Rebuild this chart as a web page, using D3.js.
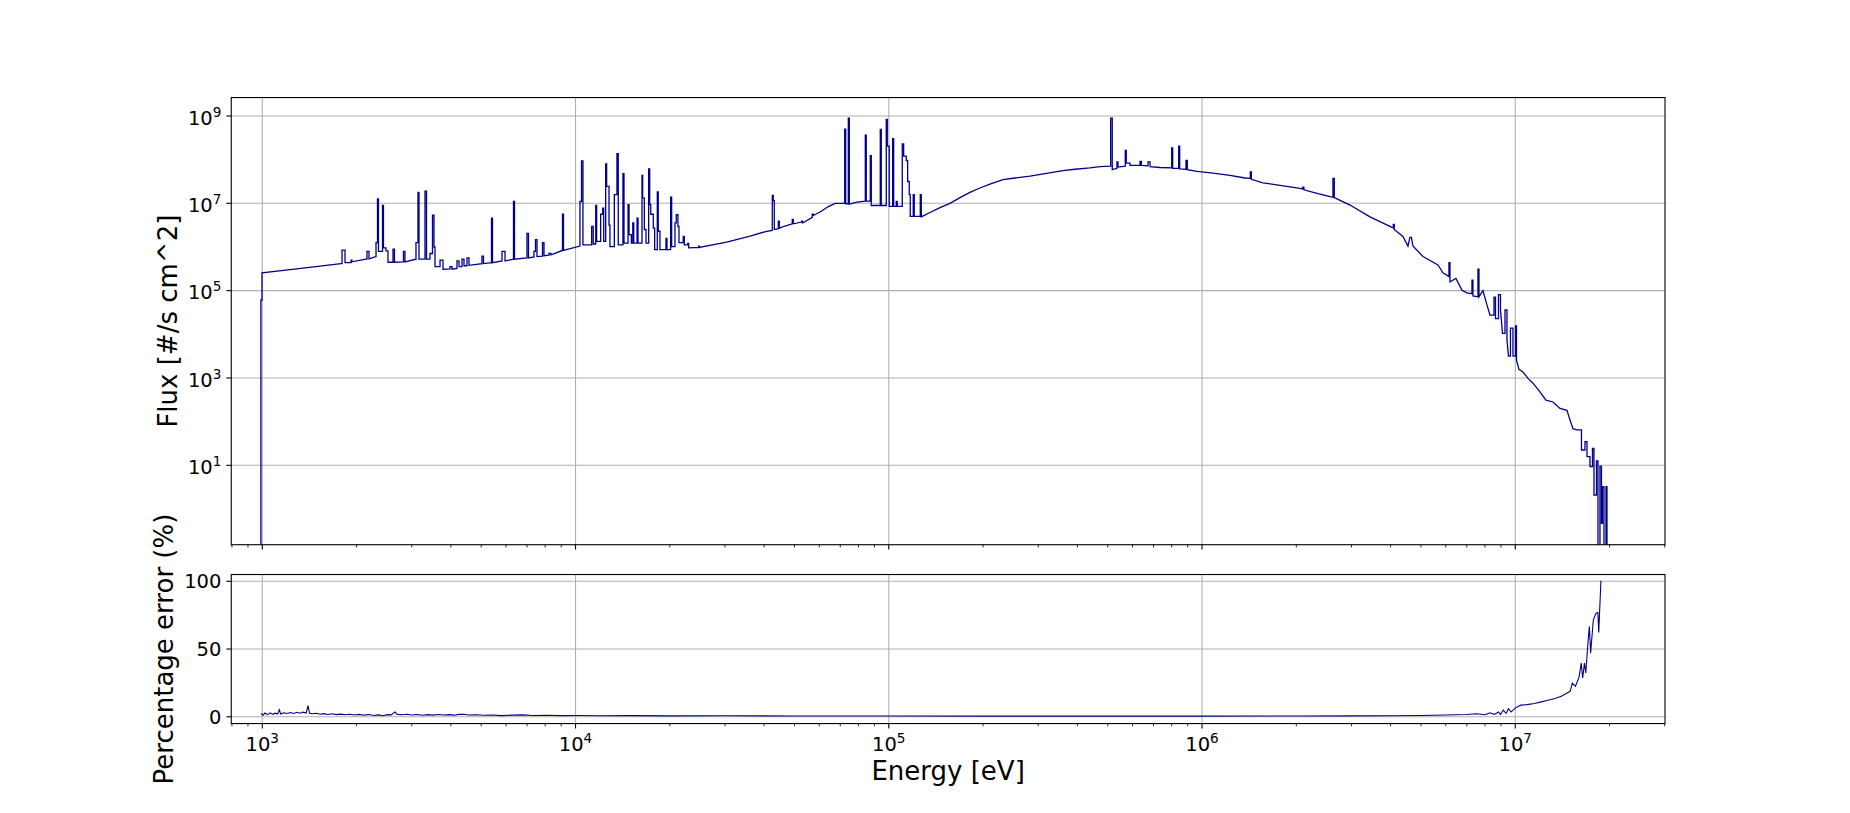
<!DOCTYPE html>
<html><head><meta charset="utf-8">
<script src="https://cdn.jsdelivr.net/npm/d3@7"></script>
<style>
body{margin:0;background:#fff}
svg{display:block}
text{font-family:"DejaVu Sans",sans-serif;fill:#000}
</style>
</head><body>
<svg id="chart" width="1850" height="813"></svg>
<script>
// ---- data: flux trace vertices [energy eV, flux #/s cm^2]; repeated energies are bin edges ----
const fluxTrace = [
[983,1e-3],[990,1e-3],[990,6.1e4],[998,6.1e4],[998,2.57e5],[1226,3.02e5],[1529,3.63e5],[1783,4.17e5],[1797,4.17e5],
[1797,8.51e5],[1837,8.51e5],[1837,4.37e5],[1920,4.37e5],[1920,5.01e5],[1933,5.01e5],[1933,4.57e5],[2143,5.25e5],[2159,5.25e5],
[2159,7.94e5],[2191,7.94e5],[2191,5.37e5],[2307,6.03e5],[2307,1.26e6],[2332,1.26e6],[2332,1.26e7],[2349,1.26e7],
[2349,7.94e5],[2420,7.94e5],[2420,8.91e6],[2437,8.91e6],[2437,9.55e5],[2482,9.55e5],[2482,8.13e5],[2519,8.13e5],
[2519,4.47e5],[2614,4.47e5],[2614,8.91e5],[2642,8.91e5],[2642,4.47e5],[2823,4.57e5],[2823,7.94e5],[2854,7.94e5],
[2854,4.57e5],[3095,5.25e5],[3095,1.26e6],[3141,1.26e6],[3141,1.78e7],[3164,1.78e7],[3164,5.25e5],[3307,5.25e5],
[3307,1.91e7],[3344,1.91e7],[3344,5.25e5],[3430,5.25e5],[3430,7.08e5],[3494,7.08e5],[3494,5.37e6],[3533,5.37e6],
[3533,1.0e6],[3559,1.0e6],[3559,3.55e5],[3693,3.55e5],[3693,5.01e5],[3775,5.01e5],[3775,3.09e5],[3974,3.16e5],
[3974,3.55e5],[4033,3.55e5],[4033,3.09e5],[4183,3.24e5],[4183,4.79e5],[4246,4.79e5],[4246,3.55e5],[4341,3.55e5],
[4341,5.25e5],[4405,5.25e5],[4405,3.72e5],[4503,3.72e5],[4503,5.62e5],[4569,5.62e5],[4569,3.80e5],[5027,4.17e5],
[5027,6.17e5],[5083,6.17e5],[5083,4.17e5],[5391,4.37e5],[5391,4.57e6],[5431,4.57e6],[5431,4.37e5],[5825,4.79e5],
[5825,7.94e5],[5955,7.94e5],[5955,4.79e5],[6338,5.25e5],[6338,1.10e7],[6385,1.10e7],[6385,5.25e5],[6998,5.62e5],
[6998,2.04e6],[7076,2.04e6],[7076,5.62e5],[7367,5.89e5],[7367,7.94e5],[7449,7.94e5],[7449,1.48e6],[7532,1.48e6],
[7532,6.03e5],[7843,6.17e5],[7843,1.26e6],[7930,1.26e6],[7930,6.31e5],[8226,6.46e5],[8226,7.08e5],[8349,7.08e5],
[8349,6.61e5],[9085,8.32e5],[9085,5.62e6],[9153,5.62e6],[9153,8.32e5],[10330,1.05e6],[10330,1.10e7],[10450,1.10e7],
[10450,9.33e7],[10560,9.33e7],[10560,1.12e6],[11260,1.12e6],[11260,2.95e6],[11390,2.95e6],[11390,1.17e6],[11600,1.17e6],
[11600,8.91e6],[11680,8.91e6],[11680,1.35e6],[12030,1.35e6],[12030,5.62e6],[12210,5.62e6],[12210,7.76e6],[12300,7.76e6],
[12300,1.35e6],[12480,1.35e6],[12480,7.94e7],[12570,7.94e7],[12570,2.45e7],[12790,2.45e7],[12790,3.16e6],[12880,3.16e6],
[12880,1.02e6],[13300,1.02e6],[13300,1.58e7],[13560,1.58e7],[13560,1.38e8],[13690,1.38e8],[13690,1.12e6],[14170,1.12e6],
[14170,4.79e7],[14280,4.79e7],[14280,1.23e6],[14710,1.23e6],[14710,9.33e6],[14820,9.33e6],[14820,1.91e6],[15070,1.91e6],
[15070,1.23e6],[15230,1.23e6],[15230,3.55e6],[15340,3.55e6],[15340,1.23e6],[15720,1.23e6],[15720,4.57e6],[15830,4.57e6],
[15830,1.23e6],[16300,1.23e6],[16300,4.37e7],[16380,4.37e7],[16380,1.32e7],[16580,1.32e7],[16580,2.51e6],[16790,2.51e6],
[16790,1.23e6],[17120,1.23e6],[17120,6.17e7],[17250,6.17e7],[17250,9.33e6],[17380,9.33e6],[17380,5.62e6],[17710,5.62e6],
[17710,2.69e6],[17890,2.69e6],[17890,8.71e5],[18240,8.71e5],[18240,1.82e7],[18370,1.82e7],[18370,2.29e6],[18600,2.29e6],
[18600,8.71e5],[19440,8.71e5],[19440,1.58e6],[19580,1.58e6],[19580,8.71e5],[20120,8.71e5],[20120,1.38e7],[20270,1.38e7],
[20270,1.02e6],[20770,1.02e6],[20770,3.55e6],[20970,3.55e6],[20970,5.50e6],[21230,5.50e6],[21230,2.95e6],[21390,2.95e6],
[21390,1.26e6],[22070,1.26e6],[22070,1.74e6],[22240,1.74e6],[22240,1.12e6],[22800,1.12e6],[22800,1.20e6],[22970,1.20e6],
[22970,9.55e5],[24720,9.77e5],[24720,1.05e6],[24830,1.05e6],[24830,9.77e5],[30380,1.29e6],[36060,1.78e6],[40750,2.29e6],
[42470,2.40e6],[42470,1.51e7],[42790,1.51e7],[42790,1.15e7],[43100,1.15e7],[43100,2.51e6],[44400,2.63e6],[44400,3.89e6],
[44720,3.89e6],[44720,2.69e6],[46630,3.02e6],[49190,3.39e6],[49190,4.27e6],[49550,4.27e6],[49550,3.39e6],[52720,3.72e6],
[52720,3.89e6],[53110,3.89e6],[53110,3.55e6],[56990,4.79e6],[56990,5.62e6],[57410,5.62e6],[57410,5.25e6],[60300,6.31e6],
[63960,8.32e6],[67330,1.0e7],[72320,1.0e7],[72320,5.01e8],[72860,5.01e8],[72860,9.77e6],[74260,9.77e6],[74260,8.91e8],
[74810,8.91e8],[74810,9.55e6],[79160,1.07e7],[84140,1.12e7],[84140,3.63e8],[84750,3.63e8],[84750,1.12e7],[87290,1.12e7],
[87290,1.23e8],[87930,1.23e8],[87930,8.91e6],[93940,8.91e6],[93940,4.90e8],[94630,4.90e8],[94630,8.91e6],[98170,8.91e6],
[98170,8.32e8],[98900,8.32e8],[98900,2.04e8],[100350,2.04e8],[100350,8.51e6],[102900,8.51e6],[102900,3.02e8],[103660,3.02e8],
[103660,8.51e6],[105660,8.51e6],[105660,1.10e7],[106440,1.10e7],[106440,8.51e6],[110430,8.51e6],[110430,2.29e8],[111560,2.29e8],
[111560,1.20e8],[113700,1.20e8],[113700,9.55e7],[114870,9.55e7],[114870,3.16e7],[116230,3.16e7],[116230,1.58e7],[117090,1.58e7],
[117090,5.01e6],[119700,5.01e6],[119700,1.58e7],[120590,1.58e7],[120590,5.01e6],[126060,5.01e6],[126060,1.58e7],[126990,1.58e7],
[126990,4.90e6],[135380,6.17e6],[145700,7.94e6],[156800,1.0e7],[168800,1.35e7],[181600,1.78e7],[195500,2.24e7],[210400,2.75e7],
[231500,3.47e7],[252900,3.80e7],[282300,4.17e7],[315200,4.79e7],[359800,5.62e7],[393000,6.03e7],[438700,6.46e7],[472300,6.92e7],
[511000,7.08e7],[511000,8.91e8],[516900,8.91e8],[516900,5.89e7],[535100,6.31e7],[535100,8.91e7],[539000,8.91e7],[539000,6.76e7],
[568800,7.08e7],[568800,1.62e8],[573000,1.62e8],[573000,8.32e7],[588800,8.32e7],[588800,7.41e7],[633900,7.41e7],[633900,9.12e7],
[639900,9.12e7],[639900,7.41e7],[672300,7.24e7],[672300,8.91e7],[682300,8.91e7],[682300,6.92e7],[734200,6.61e7],[800100,6.46e7],
[800100,1.86e8],[806000,1.86e8],[806000,6.31e7],[842400,6.31e7],[842400,2.04e8],[848600,2.04e8],[848600,6.17e7],[888800,6.03e7],
[888800,9.55e7],[897400,9.55e7],[897400,5.89e7],[963400,5.37e7],[1.083e6,4.90e7],[1.228e6,4.37e7],[1.371e6,3.80e7],[1.426e6,3.72e7],
[1.426e6,5.25e7],[1.437e6,5.25e7],[1.437e6,3.55e7],[1.565e6,2.95e7],[1.774e6,2.57e7],[2.054e6,2.19e7],[2.095e6,2.14e7],[2.095e6,2.34e7],
[2.115e6,2.34e7],[2.115e6,2.04e7],[2.345e6,1.66e7],[2.580e6,1.41e7],[2.618e6,1.38e7],[2.618e6,3.72e7],[2.644e6,3.72e7],[2.644e6,1.35e7],
[2.967e6,9.12e6],[3.437e6,4.90e6],[4.041e6,2.82e6],[4.079e6,2.75e6],[4.079e6,3.31e6],[4.109e6,3.31e6],[4.109e6,2.51e6],[4.379e6,1.74e6],
[4.543e6,1.05e6],[4.610e6,1.66e6],[4.660e6,1.66e6],[4.713e6,1.05e6],[5.075e6,6.03e5],[5.665e6,3.89e5],[5.877e6,2.57e5],[6.142e6,2.09e5],
[6.142e6,4.37e5],[6.188e6,4.37e5],[6.188e6,1.58e5],[6.466e6,1.91e5],[6.758e6,1.02e5],[7.012e6,8.91e4],[7.274e6,8.51e4],[7.274e6,1.74e5],
[7.327e6,1.74e5],[7.327e6,7.59e4],[7.602e6,7.24e4],[7.602e6,3.09e5],[7.658e6,3.09e5],[7.658e6,7.24e4],[7.887e6,1.0e5],[8.063e6,5.62e4],
[8.303e6,2.75e4],[8.551e6,2.75e4],[8.551e6,7.08e4],[8.646e6,7.08e4],[8.646e6,2.29e4],[8.839e6,2.29e4],[8.839e6,8.13e4],[8.970e6,8.13e4],
[8.970e6,3.63e4],[9.104e6,1.05e4],[9.273e6,1.05e4],[9.273e6,3.63e4],[9.408e6,3.63e4],[9.408e6,7.41e3],[9.513e6,3.16e3],[9.652e6,3.16e3],
[9.652e6,1.38e4],[9.832e6,1.38e4],[9.832e6,3.16e3],[1.0014e7,3.16e3],[1.0014e7,1.55e4],[1.0088e7,1.55e4],[1.0088e7,2.57e3],[1.0275e7,1.58e3],
[1.0582e7,1.38e3],[1.0979e7,977],[1.1391e7,759],[1.1989e7,479],[1.2531e7,309],[1.3192e7,282],[1.3890e7,200],[1.4622e7,182],
[1.4949e7,110],[1.5283e7,69.2],[1.5740e7,64.6],[1.6267e7,64.6],[1.6267e7,22.4],[1.6692e7,22.4],[1.6692e7,34.7],[1.6940e7,34.7],
[1.6940e7,15.8],[1.7316e7,15.8],[1.7316e7,9.33],[1.7637e7,9.33],[1.7637e7,24.5],[1.7833e7,24.5],[1.7833e7,2.09],[1.8165e7,2.09],
[1.8165e7,12.6],[1.8366e7,12.6],[1.8366e7,1e-3],[1.8638e7,1e-3],[1.8638e7,9.55],[1.8843e7,9.55],[1.8843e7,0.468],[1.8983e7,0.468],
[1.8983e7,3.24],[1.9194e7,3.24],[1.9194e7,1e-3],[1.9479e7,1e-3],[1.9479e7,3.24],[1.9623e7,3.24],[1.9623e7,1e-3]
];

// ---- data: [energy eV, percentage error %] ----
const errorSpectrum = [
[990,2.4],[1005,1.2],[1020,2.8],[1040,1.6],[1060,2.9],[1080,1.8],[1100,2.7],[1120,2.0],[1133,5.2],[1145,2.1],
[1170,3.0],[1200,2.4],[1230,3.2],[1260,2.5],[1290,3.3],[1320,2.6],[1350,3.4],[1380,2.8],[1400,8.2],[1415,2.6],
[1450,2.2],[1490,2.6],[1530,1.9],[1570,2.3],[1620,1.7],[1670,2.2],[1720,1.6],[1780,2.0],[1840,1.5],[1900,1.9],
[1970,1.3],[2040,1.8],[2110,1.2],[2190,1.7],[2270,1.0],[2350,1.4],[2430,0.8],[2510,1.6],[2580,1.4],[2650,3.6],
[2700,1.8],[2800,1.5],[2900,1.9],[3000,1.3],[3120,1.7],[3250,1.1],[3380,1.6],[3500,1.2],[3650,1.7],[3800,1.3],
[3950,1.6],[4100,1.2],[4250,1.8],[4400,1.9],[4550,1.3],[4800,1.5],[5100,1.1],[5400,1.3],[5800,0.9],[6300,1.2],
[6800,1.4],[7300,1.0],[8000,1.1],[9000,0.9],[1.0e4,1.0],[1.2e4,0.8],[1.5e4,0.9],[2.0e4,0.7],[3.0e4,0.8],
[5.0e4,0.6],[1.0e5,0.6],[2.0e5,0.5],[5.0e5,0.5],[1.0e6,0.5],[2.0e6,0.6],[3.0e6,0.7],[4.0e6,0.8],[5.0e6,1.0],
[6.0e6,1.3],[7.0e6,1.7],[7.51e6,2.2],[8.0e6,1.5],[8.3e6,3.0],[8.57e6,1.8],[8.84e6,3.6],[8.97e6,1.6],[9.15e6,4.9],
[9.35e6,2.5],[9.51e6,5.9],[9.70e6,3.5],[1.0e7,6.6],[1.042e7,8.6],[1.09e7,9.0],[1.152e7,9.8],[1.21e7,11.0],
[1.271e7,12.2],[1.34e7,13.5],[1.403e7,15.2],[1.45e7,17.0],[1.497e7,18.8],[1.521e7,24.9],[1.556e7,22.5],
[1.598e7,29.3],[1.624e7,39.6],[1.641e7,28.6],[1.663e7,39.6],[1.679e7,32.3],[1.706e7,54.4],[1.724e7,66.7],
[1.740e7,47.0],[1.775e7,71.6],[1.811e7,76.5],[1.835e7,77.0],[1.847e7,62.3],[1.858e7,76.5],[1.877e7,100.5]
];

const xTickExponents = [3,4,5,6,7];
const fluxTickExponents = [1,3,5,7,9];
const errorTicks = [0,50,100];
const xLabel = "Energy [eV]";
const fluxLabel = "Flux [#/s cm^2]";
const errorLabel = "Percentage error (%)";

// ---- layout ----
const L = 231.25, R = 1665;
const T1 = 97.56, B1 = 544.71, T2 = 574.52, B2 = 723.57;
const lineColor = "#00008b", gridColor = "#b0b0b0";
const tickFont = 19.5, supFont = 13.6, labelFont = 26;

const svg = d3.select("#chart");
const x = d3.scaleLog().domain([796, 3.006e7]).range([L, R]);
const yF = d3.scaleLog().domain([0.152, 2.64e9]).range([B1, T1]);
const yE = d3.scaleLinear().domain([-5, 105]).range([B2, T2]);

const defs = svg.append("defs");
defs.append("clipPath").attr("id","clipTop").append("rect").attr("x",L).attr("y",T1).attr("width",R-L).attr("height",B1-T1);
defs.append("clipPath").attr("id","clipBot").append("rect").attr("x",L).attr("y",T2).attr("width",R-L).attr("height",B2-T2);

const majorX = xTickExponents.map(e => Math.pow(10, e));
const minorX = x.ticks().filter(v => !majorX.some(m => Math.abs(m - v) / m < 1e-9));

function gridAndTicks(top, bottom) {
  const g = svg.append("g");
  g.selectAll(".gx").data(majorX).enter().append("line")
    .attr("x1", d => x(d)).attr("x2", d => x(d)).attr("y1", top).attr("y2", bottom)
    .attr("stroke", gridColor).attr("stroke-width", 1.1);
  g.selectAll(".mj").data(majorX).enter().append("line")
    .attr("x1", d => x(d)).attr("x2", d => x(d)).attr("y1", bottom).attr("y2", bottom + 4.86)
    .attr("stroke", "#000").attr("stroke-width", 1.1);
  g.selectAll(".mn").data(minorX).enter().append("line")
    .attr("x1", d => x(d)).attr("x2", d => x(d)).attr("y1", bottom).attr("y2", bottom + 2.78)
    .attr("stroke", "#000").attr("stroke-width", 0.83);
  return g;
}

function powLabel(parent, px, py, exp, anchor) {
  const t = parent.append("text").attr("x", px).attr("y", py)
    .attr("text-anchor", anchor).attr("font-size", tickFont);
  t.append("tspan").text("10");
  t.append("tspan").attr("dy", -7.8).attr("font-size", supFont).text(exp);
  return t;
}

// ---- top panel ----
const gTop = gridAndTicks(T1, B1);
fluxTickExponents.forEach(e => {
  const v = Math.pow(10, e);
  gTop.append("line").attr("x1", L).attr("x2", R).attr("y1", yF(v)).attr("y2", yF(v))
    .attr("stroke", gridColor).attr("stroke-width", 1.1);
  gTop.append("line").attr("x1", L - 4.86).attr("x2", L).attr("y1", yF(v)).attr("y2", yF(v))
    .attr("stroke", "#000").attr("stroke-width", 1.1);
  powLabel(gTop, L - 9.8, yF(v) + 8.6, e, "end");
});

svg.append("path").datum(fluxTrace)
  .attr("clip-path", "url(#clipTop)")
  .attr("fill", "none").attr("stroke", lineColor).attr("stroke-width", 1.3)
  .attr("stroke-linejoin", "miter")
  .attr("d", d3.line().x(d => x(d[0])).y(d => yF(d[1])));

svg.append("rect").attr("x", L).attr("y", T1).attr("width", R - L).attr("height", B1 - T1)
  .attr("fill", "none").attr("stroke", "#000").attr("stroke-width", 1.1);

svg.append("text").attr("transform", `translate(176.5,${(T1 + B1) / 2}) rotate(-90)`)
  .attr("text-anchor", "middle").attr("font-size", labelFont).text(fluxLabel);

// ---- bottom panel ----
const gBot = gridAndTicks(T2, B2);
errorTicks.forEach(v => {
  gBot.append("line").attr("x1", L).attr("x2", R).attr("y1", yE(v)).attr("y2", yE(v))
    .attr("stroke", gridColor).attr("stroke-width", 1.1);
  gBot.append("line").attr("x1", L - 4.86).attr("x2", L).attr("y1", yE(v)).attr("y2", yE(v))
    .attr("stroke", "#000").attr("stroke-width", 1.1);
  gBot.append("text").attr("x", L - 9.8).attr("y", yE(v) + 7).attr("text-anchor", "end")
    .attr("font-size", tickFont).text(v);
});

svg.append("path").datum(errorSpectrum)
  .attr("clip-path", "url(#clipBot)")
  .attr("fill", "none").attr("stroke", lineColor).attr("stroke-width", 1.1)
  .attr("d", d3.line().x(d => x(d[0])).y(d => yE(d[1])));

svg.append("rect").attr("x", L).attr("y", T2).attr("width", R - L).attr("height", B2 - T2)
  .attr("fill", "none").attr("stroke", "#000").attr("stroke-width", 1.1);

xTickExponents.forEach(e => powLabel(svg, x(Math.pow(10, e)), 751, e, "middle"));

svg.append("text").attr("x", (L + R) / 2).attr("y", 780).attr("text-anchor", "middle")
  .attr("font-size", labelFont).text(xLabel);

svg.append("text").attr("transform", `translate(173,${(T2 + B2) / 2}) rotate(-90)`)
  .attr("text-anchor", "middle").attr("font-size", labelFont).text(errorLabel);
</script>
</body></html>
